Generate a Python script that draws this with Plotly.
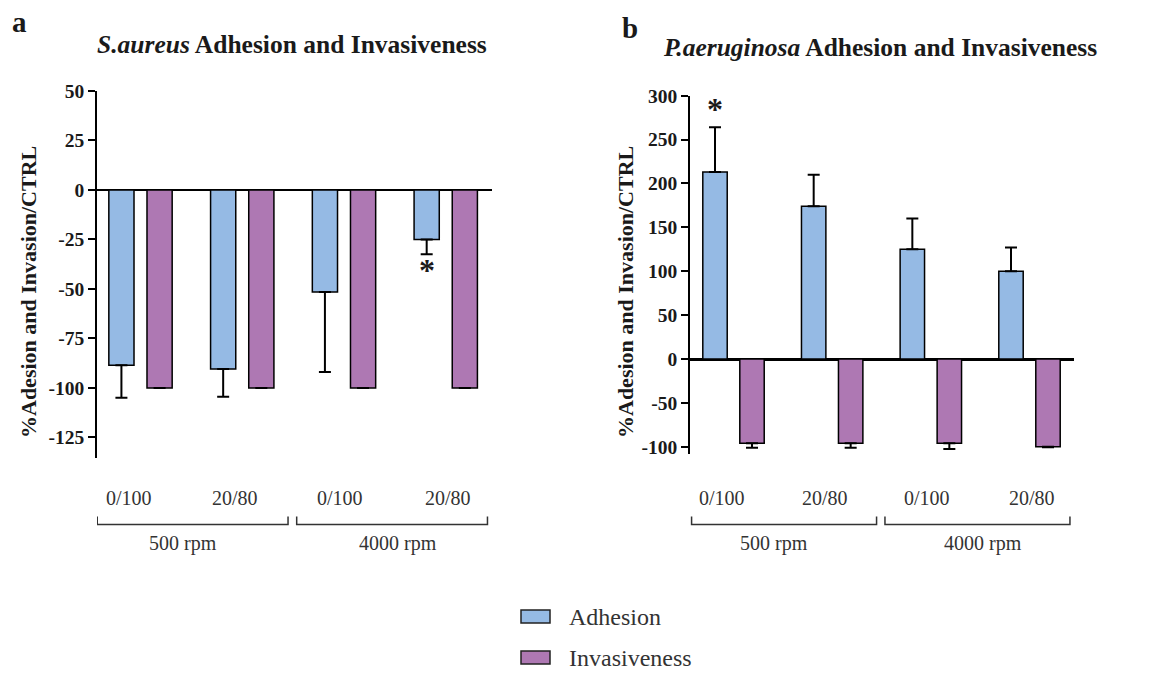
import plotly.graph_objects as go

# ---------------- data ----------------
categories = ["0/100", "20/80", "0/100", "20/80"]
speed_groups = ["500 rpm", "4000 rpm"]
series_names = ["Adhesion", "Invasiveness"]

sa_adhesion = [-88.5, -90.5, -51.5, -25]
sa_adhesion_err = [16.5, 14, 40.5, 7.5]
sa_invasion = [-100, -100, -100, -100]
sa_invasion_err = [0, 0, 0, 0]
sa_star_index = [3]
sa_star_y = [-35.5]

pa_adhesion = [213, 174, 125, 100]
pa_adhesion_err = [51, 36, 35, 27]
pa_invasion = [-96, -96, -96, -100]
pa_invasion_err = [5, 5, 6.5, 0.5]
pa_star_index = [0]
pa_star_y = [296]

sa_ticks = [50, 25, 0, -25, -50, -75, -100, -125]
pa_ticks = [300, 250, 200, 150, 100, 50, 0, -50, -100]

# ---------------- style ----------------
W, H = 1157, 673
BLUE = "#95BAE4"
PURPLE = "#AE78B3"
SERIF = "Liberation Serif"
TXT = "#1a1a1a"
BARGAP = 0.25
BARGROUPGAP = 0.34


def fx(p):
    return p / W


def fy(p):
    return 1 - p / H


x_idx = list(range(len(categories)))

fig = go.Figure()


def err_dict(vals, errs):
    up = [e if v > 0 else 0 for v, e in zip(vals, errs)]
    dn = [e if v < 0 else 0 for v, e in zip(vals, errs)]
    return dict(type="data", symmetric=False, array=up, arrayminus=dn,
                color="black", thickness=2, width=6)


for xa, ya, ad, ade, inv, inve in [
    ("x", "y", sa_adhesion, sa_adhesion_err, sa_invasion, sa_invasion_err),
    ("x2", "y2", pa_adhesion, pa_adhesion_err, pa_invasion, pa_invasion_err),
]:
    fig.add_trace(go.Bar(x=x_idx, y=ad, name=series_names[0], xaxis=xa, yaxis=ya,
                         marker=dict(color=BLUE, line=dict(color="black", width=1.5)),
                         error_y=err_dict(ad, ade), showlegend=False, offsetgroup="a"))
    fig.add_trace(go.Bar(x=x_idx, y=inv, name=series_names[1], xaxis=xa, yaxis=ya,
                         marker=dict(color=PURPLE, line=dict(color="black", width=1.5)),
                         error_y=err_dict(inv, inve), showlegend=False, offsetgroup="b"))

# panel geometry (pixels)
A_LEFT, A_RIGHT, A_TOP, A_BOT = 97, 492, 91, 458
B_LEFT, B_RIGHT, B_TOP, B_BOT = 690, 1074, 95.7, 454


def bold_labels(vals):
    return [f"<b>{v}</b>" for v in vals]


axis_common = dict(showgrid=False, zeroline=False, visible=False, automargin=False)
yaxis_common = dict(showgrid=False, showline=True, linecolor="black", linewidth=1.5,
                    ticks="outside", ticklen=7, tickwidth=1.5, tickcolor="black",
                    zeroline=True, zerolinecolor="black", automargin=False,
                    tickmode="array",
                    tickfont=dict(family=SERIF, size=19.5, color=TXT))

fig.update_layout(
    template="none",
    width=W, height=H, autosize=False,
    margin=dict(l=0, r=0, t=0, b=0, pad=0),
    font=dict(family=SERIF, color=TXT),
    paper_bgcolor="white", plot_bgcolor="white",
    barmode="group", bargap=BARGAP, bargroupgap=BARGROUPGAP,
    showlegend=False,
    xaxis=dict(domain=[fx(A_LEFT), fx(A_RIGHT)], range=[-0.4275, 3.4545], **axis_common),
    xaxis2=dict(domain=[fx(B_LEFT), fx(B_RIGHT)], range=[-0.441, 3.451], anchor="y2", **axis_common),
    yaxis=dict(domain=[fy(A_BOT), fy(A_TOP)], range=[-135.4, 50], tickvals=sa_ticks,
               ticktext=bold_labels(sa_ticks), zerolinewidth=1.5, **yaxis_common),
    yaxis2=dict(domain=[fy(B_BOT), fy(B_TOP)], range=[-108.2, 300], tickvals=pa_ticks,
                ticktext=bold_labels(pa_ticks), anchor="x2", zerolinewidth=2.5, **yaxis_common),
)

ann = []
# panel letters
ann.append(dict(text="<b>a</b>", x=fx(10), y=fy(22), xref="paper", yref="paper",
                xanchor="left", yanchor="middle", showarrow=False,
                font=dict(family=SERIF, size=29, color=TXT)))
ann.append(dict(text="<b>b</b>", x=fx(620), y=fy(28), xref="paper", yref="paper",
                xanchor="left", yanchor="middle", showarrow=False,
                font=dict(family=SERIF, size=29, color=TXT)))
# titles
ann.append(dict(text="<b><i>S.aureus</i> Adhesion and Invasiveness</b>", x=fx(292), y=fy(45),
                xref="paper", yref="paper", xanchor="center", yanchor="middle", showarrow=False,
                font=dict(family=SERIF, size=25.5, color=TXT)))
ann.append(dict(text="<b><i>P.aeruginosa</i> Adhesion and Invasiveness</b>", x=fx(880), y=fy(48),
                xref="paper", yref="paper", xanchor="center", yanchor="middle", showarrow=False,
                font=dict(family=SERIF, size=25.5, color=TXT)))
# y titles
for xp in (28, 625):
    ann.append(dict(text="<b>%Adesion and Invasion/CTRL</b>", x=fx(xp), y=fy(292),
                    xref="paper", yref="paper", xanchor="center", yanchor="middle",
                    textangle=-90, showarrow=False,
                    font=dict(family=SERIF, size=22, color=TXT)))

label_shift = [-12, -7, -4, 2]
rpm_shift = [-10, 6]
brackets = [(-0.425, 1.45), (1.535, 3.41)]
for xa in ("x", "x2"):
    for i, c in enumerate(categories):
        ann.append(dict(text=c, x=x_idx[i], xshift=label_shift[i], y=fy(498), xref=xa, yref="paper",
                        xanchor="center", yanchor="middle", showarrow=False,
                        font=dict(family=SERIF, size=20, color="#333")))
    for j, g in enumerate(speed_groups):
        x0, x1 = brackets[j]
        ann.append(dict(text=g, x=(x0 + x1) / 2, xshift=rpm_shift[j], y=fy(543), xref=xa, yref="paper",
                        xanchor="center", yanchor="middle", showarrow=False,
                        font=dict(family=SERIF, size=20, color="#333")))
        fig.add_shape(type="path", xref=xa, yref="paper",
                      path=f"M {x0},{fy(516.5)} L {x0},{fy(524.5)} L {x1},{fy(524.5)} L {x1},{fy(516.5)}",
                      line=dict(color="#333", width=1.5))

# significance stars
blue_off = -(1 - BARGAP) / 4
for xa, ya, idxs, ys in [("x", "y", sa_star_index, sa_star_y), ("x2", "y2", pa_star_index, pa_star_y)]:
    for i, yv in zip(idxs, ys):
        ann.append(dict(text="<b>*</b>", x=x_idx[i] + blue_off, y=yv, xref=xa, yref=ya,
                        xanchor="center", yanchor="middle", yshift=-10, showarrow=False,
                        font=dict(family=SERIF, size=32, color=TXT)))

# legend (manual)
for k, (name, col) in enumerate(zip(series_names, [BLUE, PURPLE])):
    top = 610 + 41 * k
    fig.add_shape(type="rect", xref="paper", yref="paper",
                  x0=fx(521), x1=fx(550), y0=fy(top), y1=fy(top + 13),
                  fillcolor=col, line=dict(color="#222", width=1.5))
    ann.append(dict(text=name, x=fx(567), y=fy(top + 7), xref="paper", yref="paper",
                    xanchor="left", yanchor="middle", showarrow=False,
                    font=dict(family=SERIF, size=24, color="#333")))

fig.update_layout(annotations=ann)
fig.write_html("out.html")
